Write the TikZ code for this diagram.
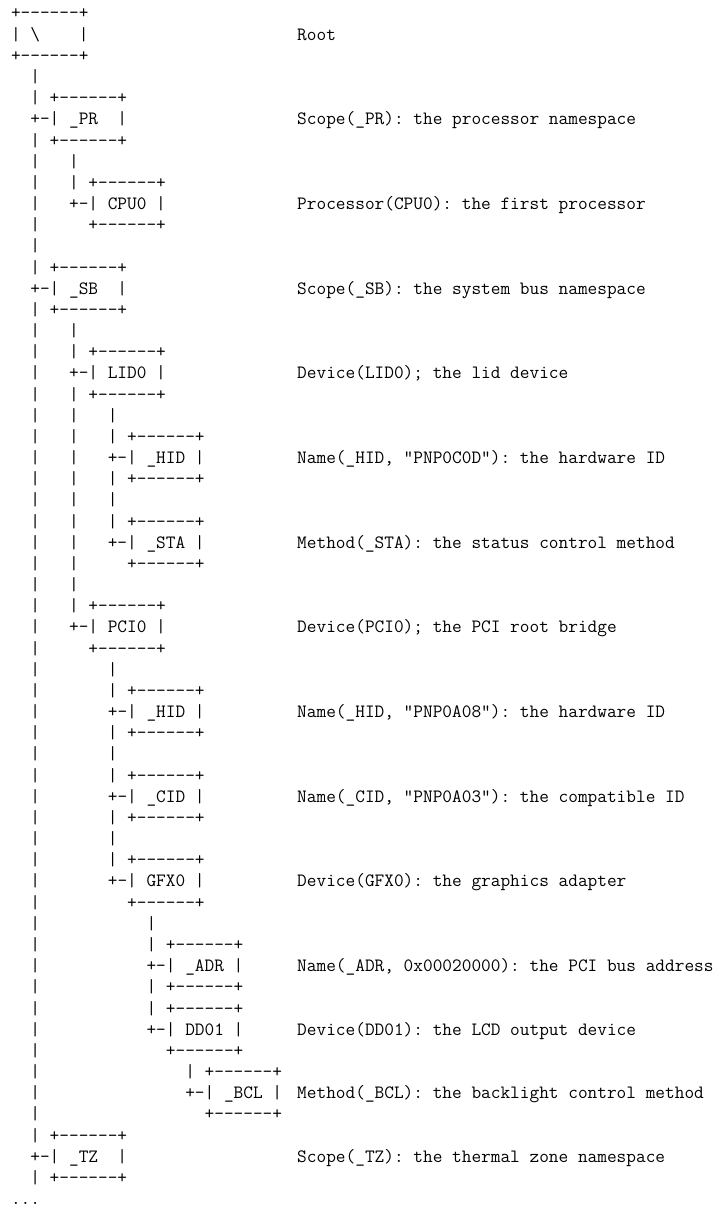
\documentclass[tikz,border=0pt]{standalone}
\newcommand\asciihy{-\kern0pt}
\newcommand\bx{+\asciihy\asciihy\asciihy\asciihy\asciihy-+}
\newcommand\trow[2]{\node[tt] (t#1) at (11,{-19-(#1-1)*21.17}) {#2};}
\newcommand\drow[2]{\node[tt] (d#1) at ({11+29*9.87},{-19-(#1-1)*21.17}) {#2};}
\begin{document}
\begin{tikzpicture}[x=1pt,y=1pt,
  tt/.style={anchor=base west, inner sep=0pt, outer sep=0pt, text=black,
    font=\fontsize{18.8pt}{21pt}\selectfont\ttfamily\frenchspacing}]
\useasboundingbox (0,0) rectangle (724,-1209);
\trow{1}{\bx}
\trow{2}{|~\textbackslash~~~~|}
\trow{3}{\bx}
\trow{4}{~~|}
\trow{5}{~~|~\bx}
\trow{6}{~~+-|~\_PR~~|}
\trow{7}{~~|~\bx}
\trow{8}{~~|~~~|}
\trow{9}{~~|~~~|~\bx}
\trow{10}{~~|~~~+-|~CPU0~|}
\trow{11}{~~|~~~~~\bx}
\trow{12}{~~|}
\trow{13}{~~|~\bx}
\trow{14}{~~+-|~\_SB~~|}
\trow{15}{~~|~\bx}
\trow{16}{~~|~~~|}
\trow{17}{~~|~~~|~\bx}
\trow{18}{~~|~~~+-|~LID0~|}
\trow{19}{~~|~~~|~\bx}
\trow{20}{~~|~~~|~~~|}
\trow{21}{~~|~~~|~~~|~\bx}
\trow{22}{~~|~~~|~~~+-|~\_HID~|}
\trow{23}{~~|~~~|~~~|~\bx}
\trow{24}{~~|~~~|~~~|}
\trow{25}{~~|~~~|~~~|~\bx}
\trow{26}{~~|~~~|~~~+-|~\_STA~|}
\trow{27}{~~|~~~|~~~~~\bx}
\trow{28}{~~|~~~|}
\trow{29}{~~|~~~|~\bx}
\trow{30}{~~|~~~+-|~PCI0~|}
\trow{31}{~~|~~~~~\bx}
\trow{32}{~~|~~~~~~~|}
\trow{33}{~~|~~~~~~~|~\bx}
\trow{34}{~~|~~~~~~~+-|~\_HID~|}
\trow{35}{~~|~~~~~~~|~\bx}
\trow{36}{~~|~~~~~~~|}
\trow{37}{~~|~~~~~~~|~\bx}
\trow{38}{~~|~~~~~~~+-|~\_CID~|}
\trow{39}{~~|~~~~~~~|~\bx}
\trow{40}{~~|~~~~~~~|}
\trow{41}{~~|~~~~~~~|~\bx}
\trow{42}{~~|~~~~~~~+-|~GFX0~|}
\trow{43}{~~|~~~~~~~~~\bx}
\trow{44}{~~|~~~~~~~~~~~|}
\trow{45}{~~|~~~~~~~~~~~|~\bx}
\trow{46}{~~|~~~~~~~~~~~+-|~\_ADR~|}
\trow{47}{~~|~~~~~~~~~~~|~\bx}
\trow{48}{~~|~~~~~~~~~~~|~\bx}
\trow{49}{~~|~~~~~~~~~~~+-|~DD01~|}
\trow{50}{~~|~~~~~~~~~~~~~\bx}
\trow{51}{~~|~~~~~~~~~~~~~~~|~\bx}
\trow{52}{~~|~~~~~~~~~~~~~~~+-|~\_BCL~|}
\trow{53}{~~|~~~~~~~~~~~~~~~~~\bx}
\trow{54}{~~|~\bx}
\trow{55}{~~+-|~\_TZ~~|}
\trow{56}{~~|~\bx}
\trow{57}{.\kern0pt.\kern0pt.}
\drow{2}{Root}
\drow{6}{Scope(\_PR): the processor namespace}
\drow{10}{Processor(CPU0): the first processor}
\drow{14}{Scope(\_SB): the system bus namespace}
\drow{18}{Device(LID0); the lid device}
\drow{22}{Name(\_HID, "PNP0C0D"): the hardware ID}
\drow{26}{Method(\_STA): the status control method}
\drow{30}{Device(PCI0); the PCI root bridge}
\drow{34}{Name(\_HID, "PNP0A08"): the hardware ID}
\drow{38}{Name(\_CID, "PNP0A03"): the compatible ID}
\drow{42}{Device(GFX0): the graphics adapter}
\drow{46}{Name(\_ADR, 0x00020000): the PCI bus address}
\drow{49}{Device(DD01): the LCD output device}
\drow{52}{Method(\_BCL): the backlight control method}
\drow{55}{Scope(\_TZ): the thermal zone namespace}
\end{tikzpicture}
\end{document}
